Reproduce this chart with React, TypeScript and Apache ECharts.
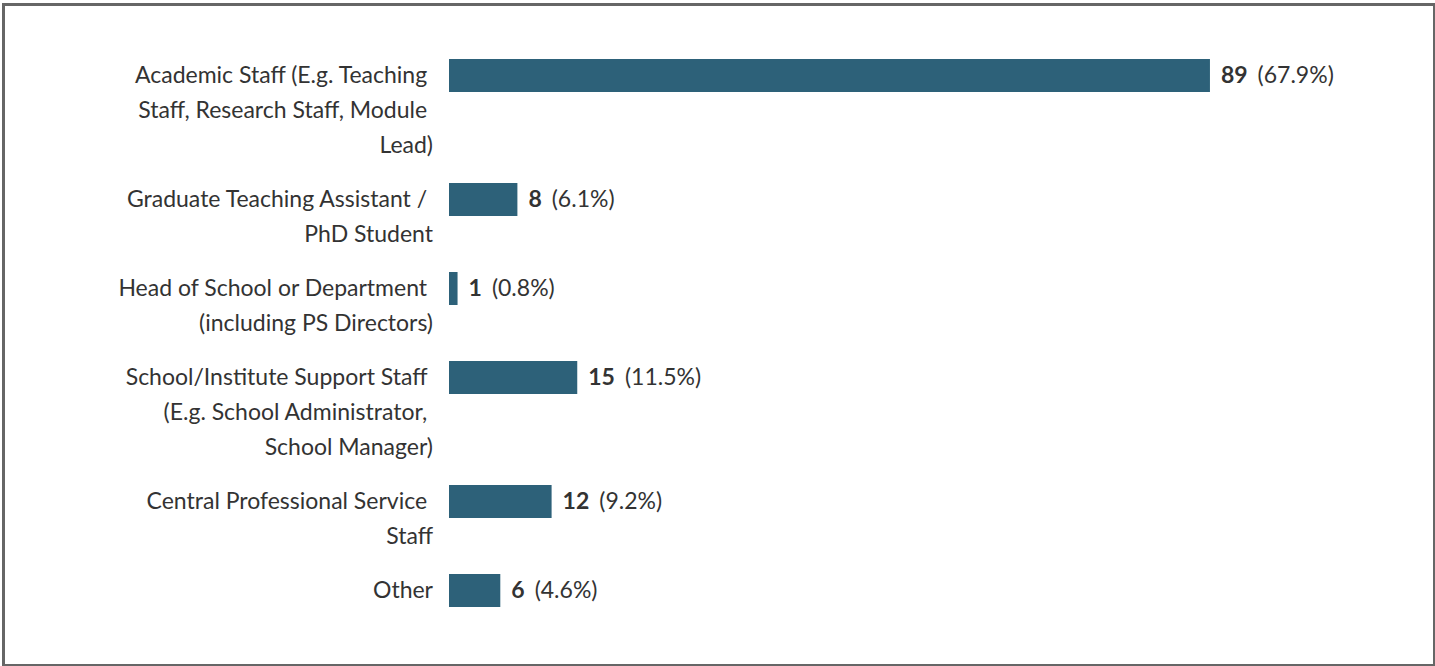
import React, { useEffect, useRef } from "react";
import * as echarts from "echarts";

// Category labels, with line breaks as wrapped in the reference
const categories: string[] = [
  "Academic Staff (E.g. Teaching \nStaff, Research Staff, Module \nLead)",
  "Graduate Teaching Assistant / \nPhD Student",
  "Head of School or Department \n(including PS Directors)",
  "School/Institute Support Staff \n(E.g. School Administrator, \nSchool Manager)",
  "Central Professional Service \nStaff",
  "Other",
];
const counts: number[] = [89, 8, 1, 15, 12, 6];
const percents: string[] = ["67.9", "6.1", "0.8", "11.5", "9.2", "4.6"];

const LINE = 35;
const GAP = 19;
const TOP0 = 58;
const LEFT = 449;
const WIDTH = 855;
const TEXT = "#333333";
const BAR = "#2d6179";
const FS = 23;

export default function App() {
  const ref = useRef<HTMLDivElement>(null);
  useEffect(() => {
    document.body.style.margin = "0";
    if (!ref.current) return;
    const chart = echarts.init(ref.current, undefined, { renderer: "svg" });
    const grids: any[] = [];
    const xAxes: any[] = [];
    const yAxes: any[] = [];
    const series: any[] = [];
    let top = TOP0;
    categories.forEach((label, i) => {
      const lines = label.split("\n");
      grids.push({ left: LEFT, width: WIDTH, top, height: lines.length * LINE, containLabel: false });
      top += lines.length * LINE + GAP;
      xAxes.push({
        gridIndex: i,
        type: "value",
        min: 0,
        max: 100,
        show: false,
        splitLine: { show: false },
      });
      yAxes.push({
        gridIndex: i,
        type: "category",
        inverse: true,
        data: lines,
        axisLine: { show: false },
        axisTick: { show: false },
        splitLine: { show: false },
        axisLabel: {
          margin: 16,
          fontSize: FS,
          fontFamily: "Lato",
          color: TEXT,
          interval: 0,
          verticalAlign: "bottom",
          lineHeight: 4,
        },
      });
      series.push({
        type: "bar",
        xAxisIndex: i,
        yAxisIndex: i,
        barWidth: 33,
        itemStyle: { color: BAR },
        data: lines.map((_, j) => (j === 0 ? counts[i] : null)),
        label: {
          show: true,
          position: "right",
          distance: 11,
          offset: [0, -2],
          formatter: (p: any) => `{b|${p.value}}{p|(${percents[i]}%)}`,
          rich: {
            b: { fontFamily: "Lato", fontSize: FS, fontWeight: "bold", color: TEXT, padding: [0, 10, 0, 0] },
            p: { fontFamily: "Lato", fontSize: FS, color: TEXT },
          },
        },
      });
    });
    chart.setOption({
      animation: false,
      backgroundColor: "#ffffff",
      grid: grids,
      xAxis: xAxes,
      yAxis: yAxes,
      series,
    });
    return () => chart.dispose();
  }, []);
  return (
    <div style={{ position: "relative", width: 1435, height: 666, overflow: "hidden", background: "#fff" }}>
      <div ref={ref} style={{ position: "absolute", left: 0, top: 0, width: 1435, height: 666 }} />
      <div
        style={{
          position: "absolute",
          left: 2,
          top: 3,
          width: 1434,
          height: 664,
          border: "3px solid #666666",
          boxSizing: "border-box",
          pointerEvents: "none",
        }}
      />
    </div>
  );
}
